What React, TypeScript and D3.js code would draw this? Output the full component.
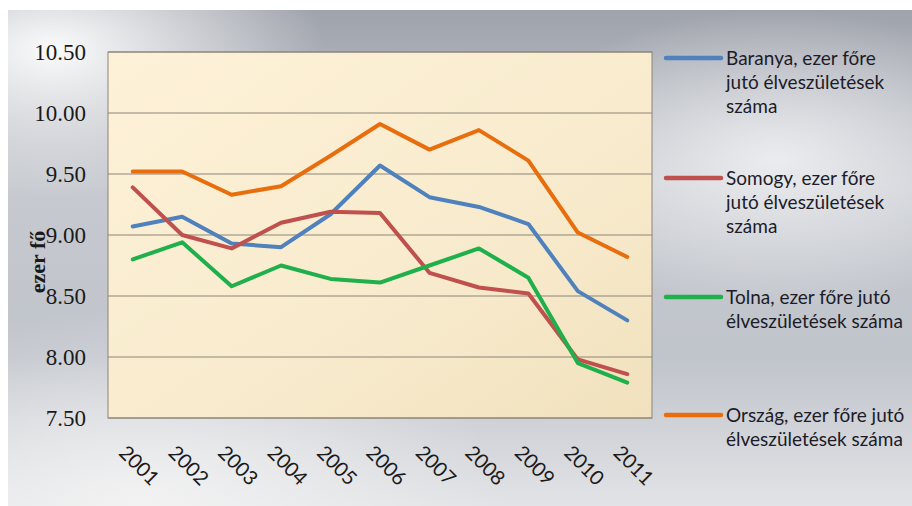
import React from 'react';
import * as d3 from 'd3';

const years = ['2001', '2002', '2003', '2004', '2005', '2006', '2007', '2008', '2009', '2010', '2011'];
const baranya = [9.07, 9.15, 8.93, 8.90, 9.17, 9.57, 9.31, 9.23, 9.09, 8.54, 8.30];
const somogy = [9.39, 9.00, 8.89, 9.10, 9.19, 9.18, 8.69, 8.57, 8.52, 7.98, 7.86];
const tolna = [8.80, 8.94, 8.58, 8.75, 8.64, 8.61, 8.75, 8.89, 8.65, 7.95, 7.79];
const orszag = [9.52, 9.52, 9.33, 9.40, 9.65, 9.91, 9.70, 9.86, 9.61, 9.02, 8.82];
const yTicks = [7.5, 8.0, 8.5, 9.0, 9.5, 10.0, 10.5];

const series = [
  { name: ['Baranya, ezer főre', 'jutó élveszületések', 'száma'], values: baranya, color: '#4f81bd' },
  { name: ['Somogy, ezer főre', 'jutó élveszületések', 'száma'], values: somogy, color: '#c0504d' },
  { name: ['Tolna, ezer főre jutó', 'élveszületések száma'], values: tolna, color: '#1fb04c' },
  { name: ['Ország, ezer főre jutó', 'élveszületések száma'], values: orszag, color: '#e86e0d' },
];

const W = 912;
const H = 506;
const plot = { left: 108, top: 52, right: 652, bottom: 418 };
const legendY = [58, 178, 297, 415];
const serif = 'Liberation Serif, Times New Roman, serif';
const sans = 'Lato, Carlito, sans-serif';

export default function App() {
  const x = d3.scaleBand<string>().domain(years).range([plot.left, plot.right]);
  const y = d3.scaleLinear().domain([7.5, 10.5]).range([plot.bottom, plot.top]);
  const line = d3.line<number>()
    .x((_, i) => (x(years[i]) as number) + x.bandwidth() / 2)
    .y(d => y(d));

  return (
    <svg width={W} height={H} style={{ position: 'absolute', left: 0, top: 0, display: 'block' }}>
      <defs>
        <linearGradient id="bg" x1="0" y1="0" x2="0" y2="1">
          <stop offset="0" stopColor="#9fa3ac" />
          <stop offset="0.35" stopColor="#c6c9cf" />
          <stop offset="0.7" stopColor="#c0c4cb" />
          <stop offset="1" stopColor="#e2e3e6" />
        </linearGradient>
        <radialGradient id="glowL" cx="0.05" cy="0.08" r="0.3">
          <stop offset="0" stopColor="#ffffff" stopOpacity="0.95" />
          <stop offset="1" stopColor="#ffffff" stopOpacity="0" />
        </radialGradient>
        <radialGradient id="glowR" cx="0.85" cy="0.3" r="0.3">
          <stop offset="0" stopColor="#f2f3f5" stopOpacity="0.85" />
          <stop offset="1" stopColor="#f2f3f5" stopOpacity="0" />
        </radialGradient>
        <radialGradient id="glowB" cx="0.15" cy="1" r="0.4">
          <stop offset="0" stopColor="#f4f4f4" stopOpacity="0.9" />
          <stop offset="1" stopColor="#f4f4f4" stopOpacity="0" />
        </radialGradient>
        <linearGradient id="plotbg" x1="0" y1="0" x2="1" y2="1">
          <stop offset="0" stopColor="#fdf1d8" />
          <stop offset="0.6" stopColor="#f8ebcd" />
          <stop offset="1" stopColor="#f1e1bd" />
        </linearGradient>
      </defs>
      <rect x={0} y={0} width={W} height={H} fill="#ffffff" />
      <rect x={8} y={10} width={W - 8} height={H - 10} fill="url(#bg)" />
      <rect x={8} y={10} width={W - 8} height={H - 10} fill="url(#glowL)" />
      <rect x={8} y={10} width={W - 8} height={H - 10} fill="url(#glowR)" />
      <rect x={8} y={10} width={W - 8} height={H - 10} fill="url(#glowB)" />

      <rect x={plot.left} y={plot.top} width={plot.right - plot.left} height={plot.bottom - plot.top}
        fill="url(#plotbg)" stroke="#8c8478" strokeWidth={1} />

      {yTicks.map(t => (
        <g key={t}>
          <line x1={plot.left} x2={plot.right} y1={y(t)} y2={y(t)} stroke="#8c8478" strokeWidth={1} />
          <text x={86} y={y(t)} dy="0.35em" textAnchor="end"
            fontFamily={serif} fontSize={23} fill="#1a1a1a">
            {t.toFixed(2)}
          </text>
        </g>
      ))}

      <text transform="translate(45,262) rotate(-90)" textAnchor="middle"
        fontFamily={serif} fontWeight="bold" fontSize={22} fill="#1a1a1a">
        ezer fő
      </text>

      {years.map(yr => {
        const cx = (x(yr) as number) + x.bandwidth() / 2;
        return (
          <text key={yr} transform={`translate(${cx - 5},${444}) rotate(45)`}
            fontFamily={sans} fontSize={20} fill="#1a1a1a" dy="0.7em">
            {yr}
          </text>
        );
      })}

      {series.map(s => (
        <path key={s.name[0]} d={line(s.values) || ''} fill="none" stroke={s.color}
          strokeWidth={4} strokeLinejoin="round" strokeLinecap="round" />
      ))}

      {series.map((s, i) => (
        <g key={s.name[0]}>
          <line x1={666} x2={721} y1={legendY[i]} y2={legendY[i]} stroke={s.color}
            strokeWidth={4.5} strokeLinecap="round" />
          <text x={726} y={legendY[i]} fontFamily={sans} fontSize={19} fill="#1c1c28">
            {s.name.map((ln, j) => (
              <tspan key={j} x={726} dy={j === 0 ? '0.35em' : 24}>{ln}</tspan>
            ))}
          </text>
        </g>
      ))}
    </svg>
  );
}
